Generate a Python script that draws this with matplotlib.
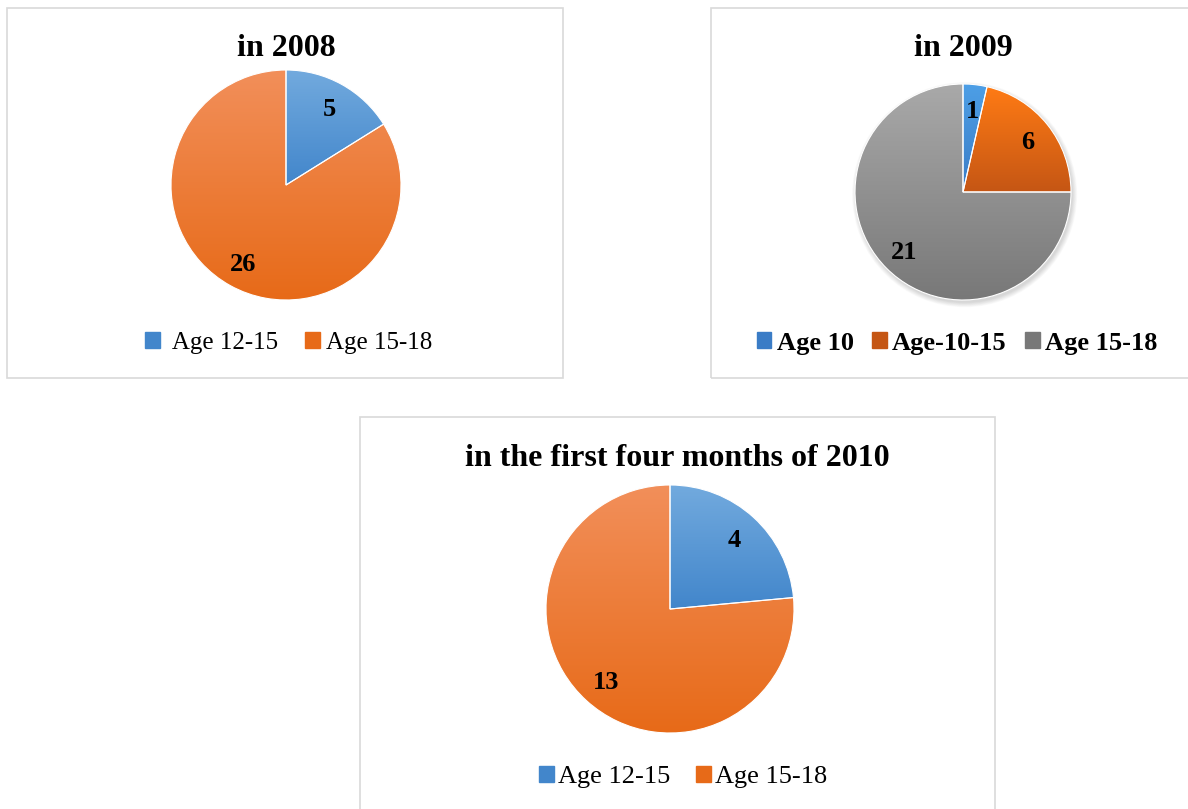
"""Three pie charts: age groups by year."""
import matplotlib.pyplot as plt
import numpy as np
from matplotlib.colors import LinearSegmentedColormap
from matplotlib.patches import Rectangle, Patch

plt.rcParams["font.family"] = ["Liberation Serif", "DejaVu Serif"]

W, H = 1188, 809

titles = ["in 2008", "in 2009", "in the first four months of 2010"]
labels_2008 = [" Age 12-15", "Age 15-18"]
values_2008 = [5, 26]
labels_2009 = ["Age 10", "Age-10-15", "Age 15-18"]
values_2009 = [1, 6, 21]
labels_2010 = ["Age 12-15", "Age 15-18"]
values_2010 = [4, 13]

# (top colour, bottom colour) for the slice gradients
blue = ("#72aade", "#4286cb")
orange = ("#f28f5a", "#e76a18")
blue_09 = ("#4d9fe6", "#3a7cc6")
orange_09 = ("#ff7b15", "#c55614")
gray_09 = ("#a9a9a9", "#787878")


def px_axes(fig, cx, cy, r):
    return fig.add_axes([(cx - r) / W, 1 - (cy + r) / H, 2 * r / W, 2 * r / H])


def pie(ax, values, grads, shadow=False):
    total = sum(values)
    wedges, _, autotexts = ax.pie(
        values,
        startangle=90,
        counterclock=False,
        colors=[g[1] for g in grads],
        autopct=lambda p: f"{round(p * total / 100)}",
        pctdistance=0.77,
        wedgeprops=dict(linewidth=0.8, edgecolor="white"),
        textprops=dict(fontsize=19, fontweight="bold", color="black"),
    )
    if shadow:
        for k in range(8):
            sh = plt.Circle((0.015, -0.025), 1.0 + 0.006 * k, color="black",
                            alpha=0.018, zorder=0.5, clip_on=False, linewidth=0)
            ax.add_patch(sh)
    for w, g in zip(wedges, grads):
        x0, y0, x1, y1 = w.get_path().get_extents().extents
        cmap = LinearSegmentedColormap.from_list("g", [g[0], g[1]])
        grad = np.linspace(0, 1, 256).reshape(-1, 1)
        im = ax.imshow(grad, cmap=cmap, extent=(x0, x1, y0, y1),
                       aspect="auto", zorder=1, origin="upper")
        im.set_clip_path(w)
        w.set_zorder(1.5)
        w.set_facecolor("none")
    for t in autotexts:
        t.set_zorder(3)
        x, y = t.get_position()
        t.set_position((x, y - 0.02))
    ax.set_xlim(-1, 1)
    ax.set_ylim(-1, 1)
    ax.set_aspect("auto")
    return wedges


fig = plt.figure(figsize=(W / 100, H / 100), dpi=100)

# chart borders
for x0, y0, x1, y1 in [(7, 8, 563, 378), (711, 8, 1200, 378), (360, 417, 995, 830)]:
    fig.patches.append(Rectangle((x0 / W, 1 - y1 / H), (x1 - x0) / W, (y1 - y0) / H,
                                 transform=fig.transFigure, facecolor="none",
                                 edgecolor="#d9d9d9", linewidth=1.2))

# 2008
ax1 = px_axes(fig, 286, 185, 115)
pie(ax1, values_2008, [blue, orange])
fig.text(286 / W, 1 - 48 / H, titles[0], ha="center", va="center",
         fontsize=23, fontweight="bold")
fig.legend([Patch(color=blue[1]), Patch(color=orange[1])], labels_2008,
           loc="center", bbox_to_anchor=(289 / W, 1 - 343 / H), ncol=2,
           frameon=False, fontsize=18, handlelength=0.6, handleheight=0.6,
           handletextpad=0.25, columnspacing=1.1)

# 2009
ax2 = px_axes(fig, 963, 192, 108)
pie(ax2, values_2009, [blue_09, orange_09, gray_09], shadow=True)
fig.text(963 / W, 1 - 48 / H, titles[1], ha="center", va="center",
         fontsize=23, fontweight="bold")
fig.legend([Patch(color=blue_09[1]), Patch(color=orange_09[1]), Patch(color=gray_09[1])],
           labels_2009, loc="center", bbox_to_anchor=(957 / W, 1 - 343 / H), ncol=3,
           frameon=False, prop=dict(size=19, weight="bold"), handlelength=0.55,
           handleheight=0.55, handletextpad=0.2, columnspacing=0.7)

# 2010
ax3 = px_axes(fig, 670, 609, 124)
pie(ax3, values_2010, [blue, orange])
fig.text(677 / W, 1 - 458 / H, titles[2], ha="center", va="center",
         fontsize=23, fontweight="bold")
fig.legend([Patch(color=blue[1]), Patch(color=orange[1])], labels_2010,
           loc="center", bbox_to_anchor=(683 / W, 1 - 777 / H), ncol=2,
           frameon=False, fontsize=19, handlelength=0.55, handleheight=0.55,
           handletextpad=0.15, columnspacing=1.0)

fig.savefig("out.png", dpi=100)
